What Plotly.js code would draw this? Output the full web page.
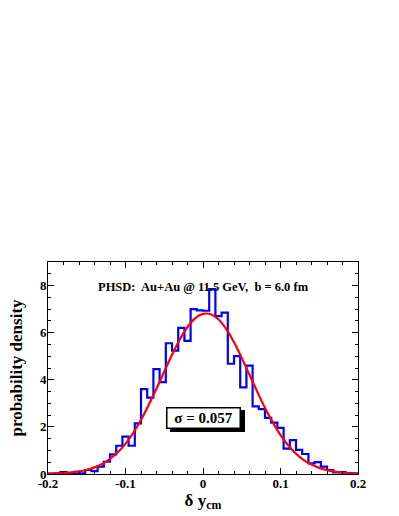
<!DOCTYPE html>
<html>
<head>
<meta charset="utf-8">
<script src="https://cdn.plot.ly/plotly-3.0.1.min.js"></script>
<style>
  html, body {margin:0; padding:0; background:#fff;}
  #myChart {width:399px; height:516px;}
</style>
</head>
<body>
<div id="myChart"></div>
<script>
// histogram of delta y_cm, 50 bins of width 0.008 from -0.2 to 0.2
var binStart = -0.2
var binWidth = 0.008
var histValues = [
    0.02, 0.03, 0.08, 0.03, 0.03, 0.03, 0.17, 0.12, 0.31, 0.52,
    0.83, 1.20, 1.59, 1.20, 2.15, 3.60, 3.24, 4.45, 3.90, 5.55,
    5.24, 6.20, 5.65, 7.00, 6.95, 6.93, 7.85, 6.70, 6.85, 4.68,
    5.00, 3.68, 4.60, 2.87, 2.75, 2.38, 2.18, 1.96, 1.08, 1.44,
    1.02, 0.85, 0.45, 0.50, 0.31, 0.17, 0.07, 0.08, 0.04, 0.03
]

// gaussian fit curve
var fitX = [
    -0.20, -0.19, -0.18, -0.17, -0.16, -0.15, -0.14, -0.13, -0.12, -0.11,
    -0.10, -0.09, -0.08, -0.07, -0.06, -0.05, -0.04, -0.03, -0.02, -0.01,
     0.00,  0.01,  0.02,  0.03,  0.04,  0.05,  0.06,  0.07,  0.08,  0.09,
     0.10,  0.11,  0.12,  0.13,  0.14,  0.15,  0.16,  0.17,  0.18,  0.19,
     0.20
]
var fitY = [
    0.01, 0.02, 0.04, 0.07, 0.11, 0.18, 0.28, 0.43, 0.64, 0.92,
    1.29, 1.75, 2.30, 2.94, 3.63, 4.35, 5.06, 5.71, 6.24, 6.62,
    6.80, 6.78, 6.56, 6.15, 5.59, 4.92, 4.21, 3.49, 2.80, 2.19,
    1.65, 1.21, 0.86, 0.59, 0.40, 0.26, 0.16, 0.10, 0.06, 0.03,
    0.02
]

var xTickVals = [-0.2, -0.1, 0, 0.1, 0.2]
var xTickText = ["-0.2", "-0.1", "0", "0.1", "0.2"]
var yTickVals = [0, 2, 4, 6, 8]

var infoText = "PHSD:  Au+Au @ 11.5 GeV,  b = 6.0 fm"
var sigmaText = "σ = 0.057"

function histTrace(values){
    var trace = {
        type: "scatter",
        mode: "lines",
        x: [],
        y: [],
        line: {color: "#0000ff", width: 2.2, shape: "hv"},
        hoverinfo: "skip"
    }
    values.forEach((v, i) => {
        trace.x.push(binStart + i * binWidth)
        trace.y.push(v)
    })
    // close the last bin
    trace.x.push(binStart + values.length * binWidth)
    trace.y.push(values[values.length - 1])
    return trace
}

var fitTrace = {
    type: "scatter",
    mode: "lines",
    x: fitX,
    y: fitY,
    line: {color: "#ff0000", width: 2.2, shape: "spline"},
    hoverinfo: "skip"
}

var serif = "Liberation Serif, Times New Roman, serif"

var axisCommon = {
    showgrid: false,
    zeroline: false,
    showline: true,
    linecolor: "#000",
    linewidth: 1,
    mirror: "allticks",
    ticks: "inside",
    ticklen: 6,
    tickwidth: 1,
    tickcolor: "#000",
    tickfont: {family: serif, size: 13, color: "#000", weight: "bold"},
    fixedrange: true
}

var layout = {
    width: 399,
    height: 516,
    margin: {l: 48, r: 41, t: 262, b: 42},
    paper_bgcolor: "#fff",
    plot_bgcolor: "#fff",
    showlegend: false,
    xaxis: Object.assign({}, axisCommon, {
        range: [-0.2, 0.2],
        tickmode: "array",
        tickvals: xTickVals,
        ticktext: xTickText,
        ticklabelstandoff: -3,
        minor: {dtick: 0.02, ticks: "inside", ticklen: 3, tickcolor: "#000", showgrid: false},
        title: {
            text: "δ y<sub>cm</sub>",
            font: {family: serif, size: 17, color: "#000", weight: "bold"},
            standoff: 2
        }
    }),
    yaxis: Object.assign({}, axisCommon, {
        range: [0, 9],
        tickmode: "array",
        tickvals: yTickVals,
        ticklabelstandoff: -2,
        minor: {dtick: 0.5, ticks: "inside", ticklen: 3, tickcolor: "#000", showgrid: false},
        title: {
            text: "probability density",
            font: {family: serif, size: 17, color: "#000", weight: "bold"},
            standoff: 12
        }
    }),
    annotations: [
        {
            xref: "paper", yref: "paper", x: 0.5, y: 0.926,
            text: infoText, showarrow: false,
            font: {family: serif, size: 12.5, color: "#000", weight: "bold"}
        },
        // shadow of the sigma box
        {
            xref: "x", yref: "y", x: 0, y: 2.39, xshift: 4, yshift: -3,
            text: sigmaText, showarrow: false,
            width: 70, height: 17, borderpad: 1,
            bgcolor: "#000", bordercolor: "#000", borderwidth: 1.5,
            font: {family: serif, size: 15, color: "#000", weight: "bold"}
        },
        {
            xref: "x", yref: "y", x: 0, y: 2.39,
            text: sigmaText, showarrow: false,
            width: 70, height: 17, borderpad: 1,
            bgcolor: "#fff", bordercolor: "#000", borderwidth: 1.5,
            font: {family: serif, size: 15, color: "#000", weight: "bold"}
        }
    ]
}

Plotly.newPlot("myChart", [histTrace(histValues), fitTrace], layout, {staticPlot: true})
</script>
</body>
</html>
